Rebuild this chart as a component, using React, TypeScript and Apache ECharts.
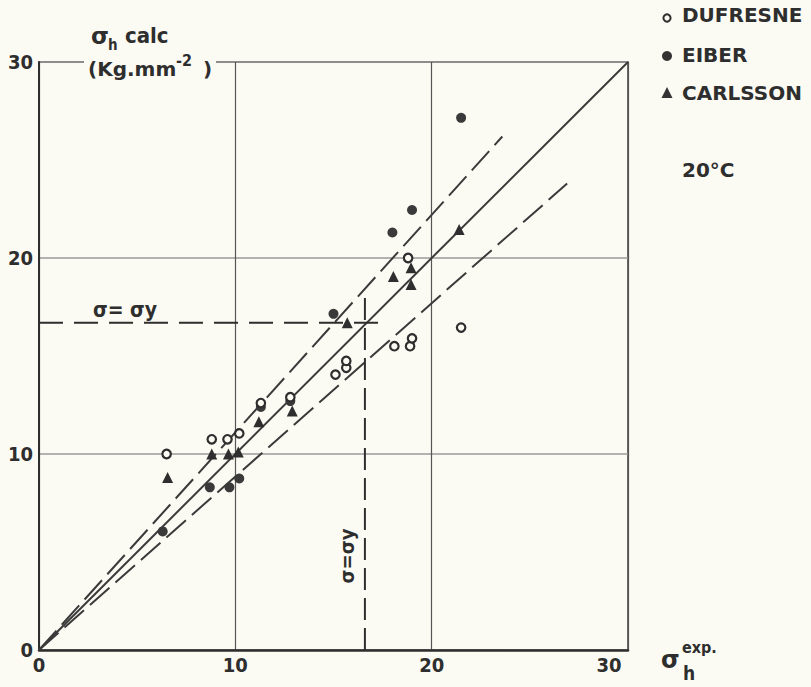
import React, { useEffect, useRef } from "react";
import * as echarts from "echarts";

const axisTicks = [0, 10, 20, 30];
const legendNames = ["DUFRESNE", "EIBER", "CARLSSON"];
const dufresneX = [6.5, 8.8, 9.6, 10.2, 11.3, 12.8, 15.1, 15.65, 15.65, 18.1, 18.9, 19.0, 21.5, 18.8];
const dufresneY = [10.0, 10.75, 10.75, 11.05, 12.6, 12.9, 14.05, 14.4, 14.75, 15.5, 15.5, 15.9, 16.45, 20.0];
const eiberX = [6.3, 8.7, 9.7, 10.2, 11.3, 12.8, 15.0, 18.0, 19.0, 21.5];
const eiberY = [6.05, 8.3, 8.3, 8.75, 12.4, 12.7, 17.15, 21.3, 22.45, 27.15];
const carlssonX = [6.55, 8.8, 9.65, 10.15, 11.2, 12.9, 15.7, 18.05, 18.95, 18.95, 21.4];
const carlssonY = [8.8, 10.0, 10.0, 10.1, 11.65, 12.2, 16.7, 19.05, 19.5, 18.65, 21.45];
const equalityLine = [[0, 0], [30, 30]];
const upperBound = [[0, 0], [23.6, 26.2]];
const lowerBound = [[0, 0], [26.9, 23.8]];
const yieldHoriz = [[0, 16.7], [17.6, 16.7]];
const yieldVert = [[16.6, 0], [16.6, 18.1]];

const BG = "#fcfbf3";
const INK = "#2e2e2e";
const FONT = "'DejaVu Sans Condensed', 'Liberation Sans Narrow', 'DejaVu Sans', sans-serif";
const FONT_WIDE = "'DejaVu Sans', sans-serif";

const zip = (xs: number[], ys: number[]) => xs.map((x, i) => [x, ys[i]]);

export default function App() {
  const ref = useRef<HTMLDivElement>(null);
  useEffect(() => {
    if (!ref.current) return;
    const chart = echarts.init(ref.current, undefined, { renderer: "svg" });
    const txt = (x: number, y: number, text: string, size: number, extra: any = {}) => ({
      type: "text",
      z: 100,
      style: {
        x,
        y,
        text,
        fontSize: size,
        fontFamily: FONT,
        fontWeight: "bold",
        fill: INK,
        textVerticalAlign: "middle",
        ...extra,
      },
    });
    chart.setOption({
      animation: false,
      backgroundColor: BG,
      grid: {
        left: 39,
        top: 62,
        width: 589,
        height: 588,
        show: true,
        borderColor: "#3a3a3a",
        borderWidth: 1.5,
        backgroundColor: "transparent",
      },
      xAxis: {
        type: "value",
        min: axisTicks[0],
        max: axisTicks[axisTicks.length - 1],
        interval: 10,
        axisLine: { show: true, lineStyle: { color: INK, width: 2.5 } },
        axisTick: { show: false },
        splitLine: { show: true, lineStyle: { color: "#555", width: 1.2 } },
        axisLabel: {
          margin: 5,
          fontSize: 20,
          fontFamily: FONT,
          fontWeight: "bold",
          color: INK,
          formatter: (v: number) => (v === 30 ? "{r|30}" : String(v)),
          rich: {
            r: { fontSize: 20, fontFamily: FONT, fontWeight: "bold", color: INK, padding: [0, 38, 0, 0] },
          },
        },
      },
      yAxis: {
        type: "value",
        min: axisTicks[0],
        max: axisTicks[axisTicks.length - 1],
        interval: 10,
        axisLine: { show: true, lineStyle: { color: INK, width: 2 } },
        axisTick: { show: false },
        splitLine: { show: true, lineStyle: { color: "#9a9a9a", width: 1.5 } },
        axisLabel: {
          margin: 6,
          fontSize: 20,
          fontFamily: FONT,
          fontWeight: "bold",
          color: INK,
        },
      },
      graphic: [
        { type: "rect", z: 90, shape: { x: 84, y: 54, width: 132, height: 20 }, style: { fill: BG } },
        txt(91, 36, "σ", 23, { fontFamily: FONT_WIDE }),
        txt(108, 45, "h", 15),
        txt(125, 35, "calc", 22),
        txt(88, 69, "(Kg.mm", 20, { fontFamily: FONT_WIDE }),
        txt(176, 60, "-2", 16),
        txt(203, 69, ")", 20, { fontFamily: FONT_WIDE }),
        txt(125, 310, "σ= σy", 21, { textAlign: "center" }),
        {
          type: "text",
          z: 100,
          x: 347,
          y: 556,
          rotation: Math.PI / 2,
          style: {
            x: 0,
            y: 0,
            text: "σ=σy",
            fontSize: 20,
            fontFamily: FONT,
            fontWeight: "bold",
            fill: INK,
            textAlign: "center",
            textVerticalAlign: "middle",
          },
        },
        txt(661, 660, "σ", 24, { fontFamily: FONT_WIDE }),
        txt(682, 647, "exp.", 16),
        txt(683, 673, "h", 19),
        // legend
        { type: "circle", z: 100, shape: { cx: 667, cy: 18, r: 3.6 }, style: { fill: BG, stroke: INK, lineWidth: 2 } },
        txt(682, 15, legendNames[0], 20, { fontFamily: FONT_WIDE }),
        { type: "circle", z: 100, shape: { cx: 667, cy: 56, r: 5 }, style: { fill: "#333" } },
        txt(682, 55, legendNames[1], 20, { fontFamily: FONT_WIDE }),
        { type: "polygon", z: 100, shape: { points: [[661.5, 98], [672.5, 98], [667, 87]] }, style: { fill: "#333" } },
        txt(682, 93, legendNames[2], 20, { fontFamily: FONT_WIDE }),
        txt(682, 170, "20°C", 20, { fontFamily: FONT_WIDE }),
      ],
      series: [
        {
          type: "line",
          data: equalityLine,
          showSymbol: false,
          silent: true,
          lineStyle: { color: "#3a3a3a", width: 2 },
          z: 2,
        },
        {
          type: "line",
          data: upperBound,
          showSymbol: false,
          silent: true,
          lineStyle: { color: "#3a3a3a", width: 2, type: [26, 8] },
          z: 2,
        },
        {
          type: "line",
          data: lowerBound,
          showSymbol: false,
          silent: true,
          lineStyle: { color: "#3a3a3a", width: 2, type: [26, 8] },
          z: 2,
        },
        {
          type: "line",
          data: yieldHoriz,
          showSymbol: false,
          silent: true,
          lineStyle: { color: "#2e2e2e", width: 2, type: [24, 11] },
          z: 2,
        },
        {
          type: "line",
          data: yieldVert,
          showSymbol: false,
          silent: true,
          lineStyle: { color: "#2e2e2e", width: 2, type: [22, 8] },
          z: 2,
        },
        {
          name: legendNames[0],
          type: "scatter",
          data: zip(dufresneX, dufresneY),
          symbol: "circle",
          symbolSize: 8.5,
          itemStyle: { color: BG, borderColor: INK, borderWidth: 2.2, opacity: 1 },
          z: 5,
        },
        {
          name: legendNames[1],
          type: "scatter",
          data: zip(eiberX, eiberY),
          symbol: "circle",
          symbolSize: 10,
          itemStyle: { color: "#3a3a3a", opacity: 1 },
          z: 4,
        },
        {
          name: legendNames[2],
          type: "scatter",
          data: zip(carlssonX, carlssonY),
          symbol: "triangle",
          symbolSize: 11,
          itemStyle: { color: "#2e2e2e", opacity: 1 },
          z: 4,
        },
      ],
    });
    return () => chart.dispose();
  }, []);
  return (
    <div
      ref={ref}
      style={{ position: "absolute", left: 0, top: 0, width: 811, height: 687 }}
    />
  );
}
